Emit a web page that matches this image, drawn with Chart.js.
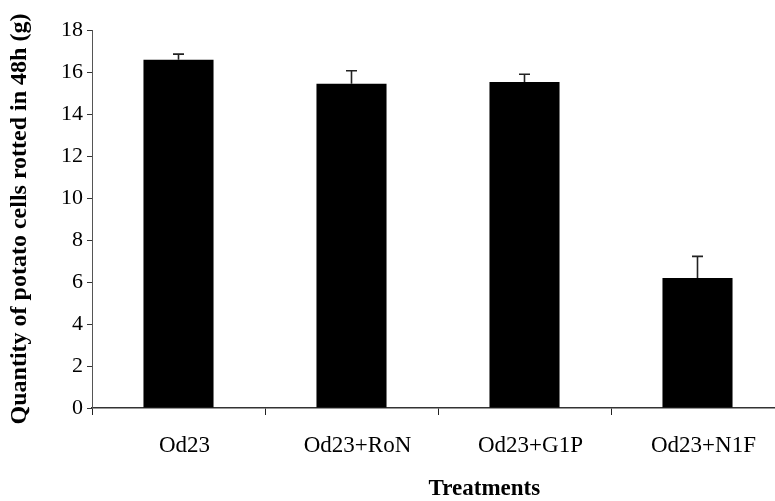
<!DOCTYPE html>
<html><head><meta charset="utf-8">
<script src="https://cdn.jsdelivr.net/npm/chart.js@4"></script>
<style>html,body{margin:0;padding:0;background:#fff;overflow:hidden;width:775px;height:501px}canvas{display:block}</style>
</head><body>
<canvas id="c" width="800" height="501"></canvas>
<script>
const categories = ['Od23', 'Od23+RoN', 'Od23+G1P', 'Od23+N1F'];
const means = [16.58, 15.44, 15.52, 6.19];
const errors = [0.27, 0.62, 0.37, 1.03];
const yMin = 0, yMax = 18, yStep = 2;
const xTitle = 'Treatments';
const yTitle = 'Quantity of potato cells rotted in 48h (g)';
const FONT = "'Liberation Serif', 'Times New Roman', serif";

const errorBars = {
  id: 'errorBars',
  afterDatasetsDraw(chart) {
    const ctx = chart.ctx, meta = chart.getDatasetMeta(0), y = chart.scales.y;
    ctx.save();
    ctx.strokeStyle = '#222';
    ctx.lineWidth = 1.6;
    meta.data.forEach((bar, i) => {
      const top = y.getPixelForValue(means[i] + errors[i]);
      ctx.beginPath();
      ctx.moveTo(bar.x, bar.y);
      ctx.lineTo(bar.x, top);
      ctx.moveTo(bar.x - 5.5, top);
      ctx.lineTo(bar.x + 5.5, top);
      ctx.stroke();
    });
    ctx.restore();
  }
};

const bottomTitle = {
  id: 'bottomTitle',
  afterDraw(chart) {
    const ctx = chart.ctx, a = chart.chartArea;
    ctx.save();
    ctx.fillStyle = '#000';
    ctx.font = 'bold 23px ' + FONT;
    ctx.textAlign = 'center';
    ctx.textBaseline = 'middle';
    ctx.fillText(xTitle, a.left + (a.right - a.left) * 0.567, 489);
    ctx.restore();
  }
};

new Chart(document.getElementById('c'), {
  type: 'bar',
  data: {
    labels: categories,
    datasets: [{
      data: means,
      backgroundColor: '#000',
      borderWidth: 0,
      barPercentage: 0.405,
      categoryPercentage: 1.0
    }]
  },
  options: {
    responsive: false,
    animation: false,
    devicePixelRatio: 1,
    layout: { padding: { left: 0, right: 16, top: 30, bottom: 0 } },
    plugins: { legend: { display: false }, tooltip: { enabled: false } },
    scales: {
      x: {
        offset: true,
        grid: { offset: true, drawOnChartArea: false, tickLength: 7, color: '#222', lineWidth: 1 },
        border: { color: '#333', width: 1.5 },
        ticks: { color: '#000', font: { family: FONT, size: 23 }, padding: 17, maxRotation: 0, labelOffset: 6 },
        afterFit(s) { s.height = 93; }
      },
      y: {
        min: yMin, max: yMax,
        ticks: { stepSize: yStep, color: '#000', font: { family: FONT, size: 22 }, padding: 4 },
        grid: { drawOnChartArea: false, tickLength: 5, color: '#333' },
        border: { color: '#555', width: 1 },
        title: { display: true, text: yTitle, color: '#000', font: { family: FONT, size: 24, weight: 'bold' }, padding: { top: 5, bottom: 0 } },
        afterFit(s) { s.width = 92; }
      }
    }
  },
  plugins: [errorBars, bottomTitle]
});
</script>
</body></html>
